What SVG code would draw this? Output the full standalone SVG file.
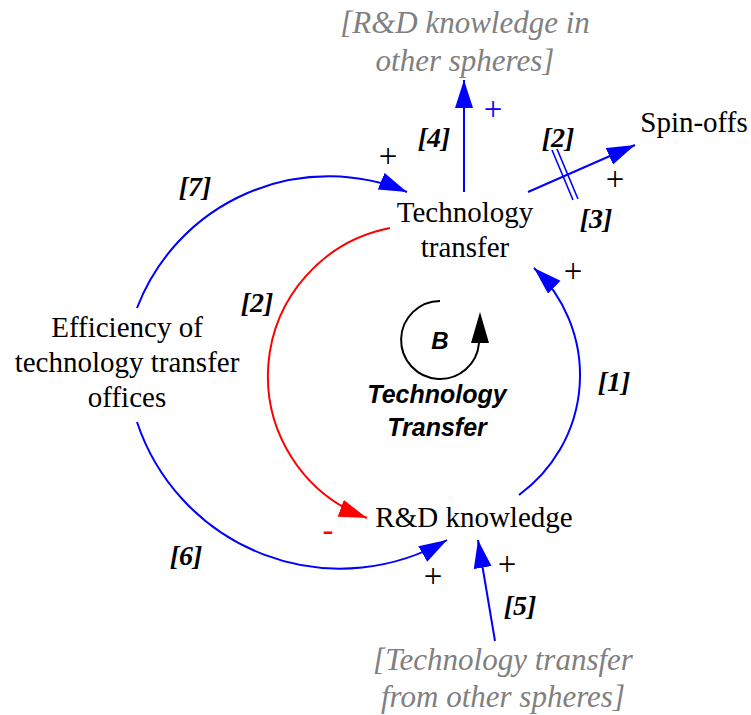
<svg xmlns="http://www.w3.org/2000/svg" width="751" height="715" viewBox="0 0 751 715">
  <style>
    .node { font-family: "Liberation Serif", "Times New Roman", serif; font-size: 29px; fill: #000; text-anchor: middle; }
    .ext { font-family: "Liberation Serif", "Times New Roman", serif; font-size: 31px; font-style: italic; fill: #808080; text-anchor: middle; }
    .tag { font-family: "Liberation Serif", "Times New Roman", serif; font-size: 28px; font-style: italic; font-weight: bold; fill: #000; text-anchor: middle; }
    .pol { font-family: "Liberation Serif", "Times New Roman", serif; font-size: 33px; fill: #000; text-anchor: middle; }
    .loop { font-family: "Liberation Sans", Arial, sans-serif; font-style: italic; font-weight: bold; fill: #000; text-anchor: middle; }
    .pos { fill: none; stroke: #0000ff; stroke-width: 2; marker-end: url(#headBlue); }
    .neg { fill: none; stroke: #ff0000; stroke-width: 2; marker-end: url(#headRed); }
  </style>
  <defs>
    <marker id="headBlue" markerUnits="userSpaceOnUse" markerWidth="30" markerHeight="20" refX="28" refY="9" orient="auto">
      <path d="M0,0 L28,9 L0,18 Z" fill="#0000ff"/>
    </marker>
    <marker id="headRed" markerUnits="userSpaceOnUse" markerWidth="30" markerHeight="20" refX="28" refY="9" orient="auto">
      <path d="M0,0 L28,9 L0,18 Z" fill="#ff0000"/>
    </marker>
  </defs>

  <rect width="751" height="715" fill="#fff"/>

  <g id="connectors">
    <!-- [1] R&D knowledge -> Technology transfer -->
    <path class="pos" d="M519,495 A148,148 0 0 0 534,268"/>
    <!-- [2] Technology transfer -> R&D knowledge (negative) -->
    <path class="neg" d="M390,228 A151,151 0 0 0 367,518"/>
    <!-- [7] Efficiency -> Technology transfer -->
    <path class="pos" d="M137,308 A205,205 0 0 1 407,192"/>
    <!-- [6] Efficiency -> R&D knowledge -->
    <path class="pos" d="M137,422 A214,214 0 0 0 447,540"/>
    <!-- [4] Technology transfer -> R&D knowledge in other spheres -->
    <path class="pos" d="M464,192 L464,80"/>
    <!-- [2][3] Technology transfer -> Spin-offs, with delay mark -->
    <path class="pos" d="M528,192 L635,145"/>
    <path d="M552,150 L573,200 M557,149 L578,199" stroke="#0000ff" stroke-width="1.6" fill="none"/>
    <!-- [5] external technology transfer -> R&D knowledge -->
    <path class="pos" d="M495,641 L478,540"/>
  </g>

  <g id="polarities">
    <text class="pol" x="573" y="282">+</text>
    <text class="pol" x="388" y="167">+</text>
    <text class="pol" x="493" y="120" style="fill:#0000ff">+</text>
    <text class="pol" x="615" y="190">+</text>
    <text class="pol" x="433" y="587">+</text>
    <text class="pol" x="507" y="575">+</text>
    <text class="pol" x="328" y="541" style="fill:#ff0000">-</text>
  </g>

  <g id="tags">
    <text class="tag" x="614" y="391">[1]</text>
    <text class="tag" x="257" y="312">[2]</text>
    <text class="tag" x="558" y="147">[2]</text>
    <text class="tag" x="596" y="228">[3]</text>
    <text class="tag" x="434" y="147">[4]</text>
    <text class="tag" x="520" y="615">[5]</text>
    <text class="tag" x="186" y="565">[6]</text>
    <text class="tag" x="195" y="196">[7]</text>
  </g>

  <g id="technology-transfer">
    <text class="node" x="465" y="222">Technology</text>
    <text class="node" x="465" y="257">transfer</text>
  </g>

  <g id="rd-knowledge">
    <text class="node" x="474" y="527">R&amp;D knowledge</text>
  </g>

  <g id="efficiency-tto">
    <text class="node" x="127" y="337">Efficiency of</text>
    <text class="node" x="127" y="372">technology transfer</text>
    <text class="node" x="127" y="407">offices</text>
  </g>

  <g id="spin-offs">
    <text class="node" x="694" y="132">Spin-offs</text>
  </g>

  <g id="rd-other-spheres">
    <text class="ext" x="465" y="33">[R&amp;D knowledge in</text>
    <text class="ext" x="465" y="71">other spheres]</text>
  </g>

  <g id="tt-other-spheres">
    <text class="ext" x="503" y="670">[Technology transfer</text>
    <text class="ext" x="503" y="707">from other spheres]</text>
  </g>

  <g id="loop-b">
    <path d="M440,301 A39,39 0 1 0 479,343" fill="none" stroke="#000" stroke-width="2"/>
    <polygon points="480,312 471,343 489,343" fill="#000"/>
    <text class="loop" x="440" y="349" font-size="24">B</text>
    <text class="loop" x="437" y="403" font-size="25">Technology</text>
    <text class="loop" x="437" y="436" font-size="25">Transfer</text>
  </g>
</svg>
